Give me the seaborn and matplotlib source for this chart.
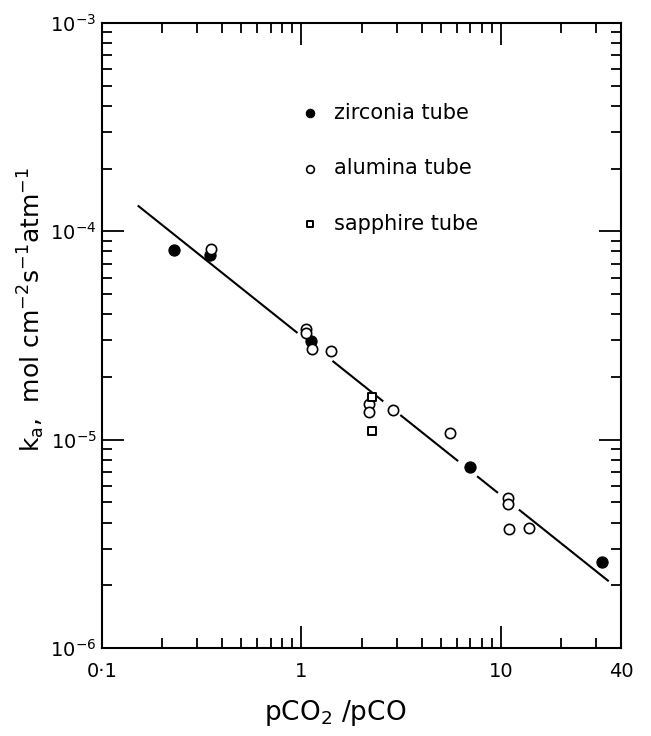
import numpy as np
import pandas as pd
import matplotlib
matplotlib.use("Agg")
import matplotlib.pyplot as plt
import matplotlib.ticker as mticker
import seaborn as sns

# ---- data ----
zirconia_x = [0.229, 0.347, 1.12, 6.97, 32.0]
zirconia_y = [8.1e-5, 7.7e-5, 2.97e-5, 7.4e-6, 2.6e-6]

alumina_x = [0.35, 1.05, 1.05, 1.13, 1.40, 2.19, 2.19, 2.86, 5.54, 10.8, 10.8, 10.96, 13.8]
alumina_y = [8.2e-5, 3.40e-5, 3.25e-5, 2.73e-5, 2.66e-5, 1.48e-5, 1.36e-5, 1.39e-5,
             1.08e-5, 5.26e-6, 4.91e-6, 3.73e-6, 3.75e-6]

sapphire_x = [2.25, 2.25]
sapphire_y = [1.60e-5, 1.10e-5]

# fitted line end points and the visible (unbroken) pieces of it
fit_x = [0.151, 34.7]
fit_y = [1.33e-4, 2.09e-6]
fit_pieces = [(0.151, 0.955), (1.43, 2.57), (3.13, 6.10), (7.59, 9.66), (12.3, 34.7)]

x_ticks = [0.1, 1, 10, 40]
x_labels = ["0·1", "1", "10", "40"]
y_ticks = [1e-6, 1e-5, 1e-4, 1e-3]
y_labels = ["$10^{-6}$", "$10^{-5}$", "$10^{-4}$", "$10^{-3}$"]

series_names = ["zirconia tube", "alumina tube", "sapphire tube"]

# ---- plotting ----
sns.set_style("ticks", rc={"text.color": "black", "axes.labelcolor": "black",
                           "xtick.color": "black", "ytick.color": "black",
                           "axes.edgecolor": "black"})
plt.rcParams["font.family"] = ["DejaVu Sans"]
plt.rcParams["mathtext.default"] = "regular"

fig = plt.figure(figsize=(6.51, 7.36), dpi=100)
ax = fig.add_axes([0.1567, 0.1196, 0.954 - 0.1567, 0.9688 - 0.1196])
ax.set_xscale("log")
ax.set_yscale("log")

# fitted line (broken into pieces)
lx0, lx1 = np.log10(fit_x)
ly0, ly1 = np.log10(fit_y)
slope = (ly1 - ly0) / (lx1 - lx0)
for a, b in fit_pieces:
    xs = np.array([a, b])
    ys = 10 ** (ly0 + slope * (np.log10(xs) - lx0))
    ax.plot(xs, ys, color="black", lw=1.5, solid_capstyle="butt", zorder=2)

sns.scatterplot(x=zirconia_x, y=zirconia_y, ax=ax, marker="o", s=65,
                color="black", edgecolor="black", linewidth=0.8, zorder=3,
                label=series_names[0])
sns.scatterplot(x=alumina_x, y=alumina_y, ax=ax, marker="o", s=55,
                facecolor="white", edgecolor="black", linewidth=1.2, zorder=3,
                label=series_names[1])
sns.scatterplot(x=sapphire_x, y=sapphire_y, ax=ax, marker="s", s=40,
                facecolor="white", edgecolor="black", linewidth=1.4, zorder=3,
                label=series_names[2])

ax.set_xlim(0.1, 40)
ax.set_ylim(1e-6, 1e-3)

ax.xaxis.set_major_locator(mticker.FixedLocator(x_ticks))
ax.xaxis.set_major_formatter(mticker.FixedFormatter(x_labels))
ax.xaxis.set_minor_locator(mticker.LogLocator(base=10, subs=np.arange(2, 10), numticks=20))
ax.xaxis.set_minor_formatter(mticker.NullFormatter())
ax.yaxis.set_major_locator(mticker.FixedLocator(y_ticks))
ax.yaxis.set_major_formatter(mticker.FixedFormatter(y_labels))
ax.yaxis.set_minor_locator(mticker.LogLocator(base=10, subs=np.arange(2, 10), numticks=20))
ax.yaxis.set_minor_formatter(mticker.NullFormatter())

ax.tick_params(which="both", direction="in", top=True, right=True, color="black", width=1.3)
ax.tick_params(which="major", length=16, labelsize=14)
ax.tick_params(axis="x", which="major", pad=10)
ax.tick_params(axis="y", which="major", pad=4)
ax.tick_params(which="minor", length=7)

for sp in ax.spines.values():
    sp.set_visible(True)
    sp.set_linewidth(1.5)
    sp.set_color("black")

ax.set_xlabel("pCO$_2$ /pCO", fontsize=19)
ax.xaxis.set_label_coords(0.449, -0.08)
ax.set_ylabel("k$_a$,  mol cm$^{-2}$s$^{-1}$atm$^{-1}$", fontsize=18)
ax.yaxis.set_label_coords(-0.106, 0.541)

leg = ax.legend(loc="upper left", bbox_to_anchor=(0.3815, 0.872), frameon=False,
                fontsize=15, labelspacing=1.7, handletextpad=0.65, handlelength=1.0,
                borderaxespad=0, borderpad=0, markerscale=0.75)

fig.savefig("out.png", dpi=100, facecolor="white")
